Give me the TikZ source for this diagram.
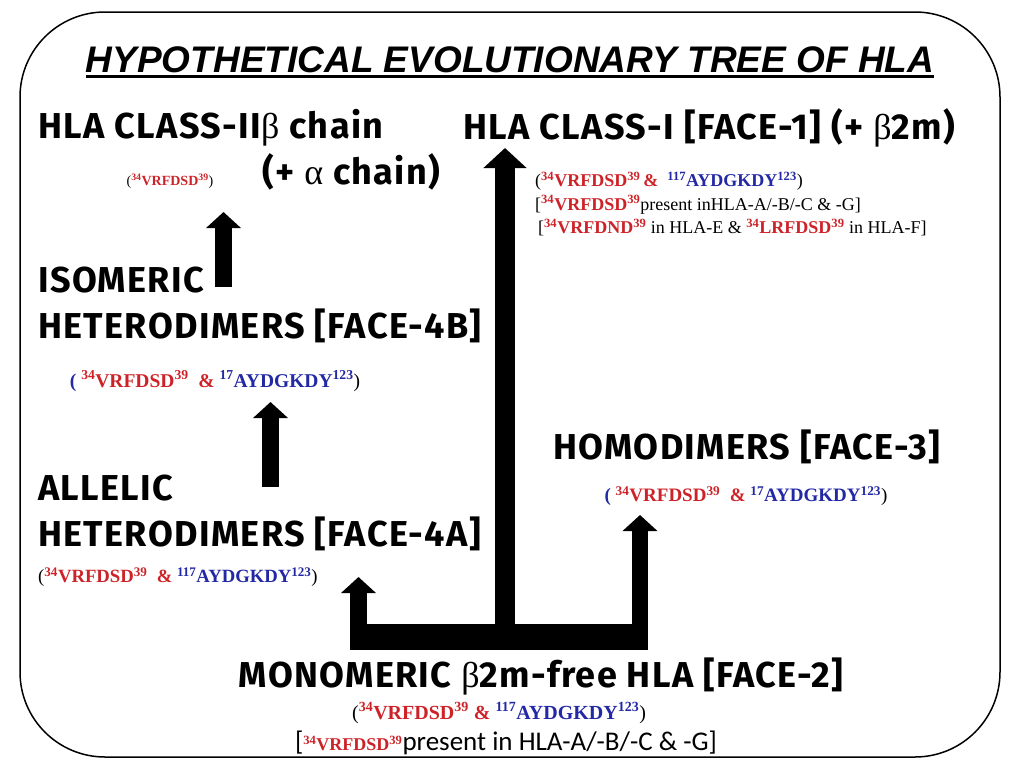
\documentclass[tikz,border=0pt]{standalone}
\usepackage{fontspec}
\setmainfont{Liberation Serif}
\newfontfamily\titlefont{Liberation Sans}
\newfontfamily\headfont{Fira Sans}[LetterSpace=3.8]
\newfontfamily\notefont{Carlito}
\usepackage{xcolor}
\usetikzlibrary{arrows.meta, positioning}
\definecolor{seqred}{RGB}{205,35,40}
\definecolor{seqblue}{RGB}{35,40,165}
\newcommand{\redseq}[3]{{\color{seqred}\textbf{\textsuperscript{#1}#2\textsuperscript{#3}}}}
\newcommand{\blueseq}[3]{{\color{seqblue}\textbf{\textsuperscript{#1}#2\textsuperscript{#3}}}}
\newcommand{\greek}[1]{{\rmfamily\mdseries #1}}
\tikzstyle{head} = [font=\headfont\bfseries\fontsize{36}{46}\selectfont, inner sep=0pt, anchor=west, align=left]
\tikzstyle{note} = [font=\fontsize{18}{23.5}\selectfont, inner sep=0pt, align=left]
\tikzstyle{blockarrow} = [line width=17pt, -{Triangle[length=16pt, width=34pt]}]

\begin{document}
\begin{tikzpicture}[x=1pt, y=-1pt]
  \useasboundingbox (0,0) rectangle (1010,761);
  \draw[line width=1.5pt, rounded corners=85pt] (20,12) rectangle (1000,757);

  % title
  \node[font=\titlefont\bfseries\itshape\fontsize{37}{40}\selectfont, inner sep=0pt] (title) at (510,60) {HYPOTHETICAL EVOLUTIONARY TREE OF HLA};
  \draw[line width=3pt] ([yshift=-3pt]title.south west) -- ([yshift=-3pt]title.south east);

  % class II
  \node[head] (classII) at (38,128) {HLA CLASS-II\greek{β} chain};
  \node[note, font=\fontsize{14}{18}\selectfont] (classIIseq) at (170,181) {(\redseq{34}{VRFDSD}{39})};
  \node[head] (alphachain) at (262,172) {(+ \greek{α} chain)};

  % class I
  \node[head] (classI) at (463,128) {HLA CLASS-I [FACE-1] (+ \greek{β}2m)};
  \node[note, anchor=west] (classInote) at (535,204) {(\redseq{34}{VRFDSD}{39}\,\textcolor{seqred}{\textbf{\&}} \ \blueseq{117}{AYDGKDY}{123})\\
    {[}\redseq{34}{VRFDSD}{39}present inHLA-A/-B/-C \& -G]\\
    \,[\redseq{34}{VRFDND}{39} in HLA-E \& \redseq{34}{LRFDSD}{39} in HLA-F]};

  % isomeric heterodimers
  \node[head] (isomeric) at (38,305) {ISOMERIC\\HETERODIMERS [FACE-4B]};
  \node[note, font=\fontsize{19.5}{22}\selectfont] (isomericseq) at (215,381) {\textcolor{seqblue}{\textbf{(}} \redseq{34}{VRFDSD}{39} \ \textcolor{seqred}{\textbf{\&}} \blueseq{17}{AYDGKDY}{123})};

  % allelic heterodimers
  \node[head] (allelic) at (38,513) {ALLELIC\\HETERODIMERS [FACE-4A]};
  \node[note, anchor=west, font=\fontsize{18.7}{22}\selectfont] (allelicseq) at (38,577) {(\redseq{34}{VRFDSD}{39} \ \textcolor{seqred}{\textbf{\&}} \blueseq{117}{AYDGKDY}{123})};

  % homodimers
  \node[head] (homo) at (553,447) {HOMODIMERS [FACE-3]};
  \node[note, font=\fontsize{19}{22}\selectfont] (homoseq) at (746,496) {\textcolor{seqblue}{\textbf{(}} \redseq{34}{VRFDSD}{39} \ \textcolor{seqred}{\textbf{\&}} \blueseq{17}{AYDGKDY}{123})};

  % monomeric
  \node[head, anchor=center] (mono) at (541,677) {MONOMERIC \greek{β}2m-free HLA [FACE-2]};
  \node[note, font=\fontsize{20}{24}\selectfont] (monoseq) at (499,713) {(\redseq{34}{VRFDSD}{39} \textcolor{seqred}{\textbf{\&}} \blueseq{117}{AYDGKDY}{123})};
  \node[note, font=\notefont\fontsize{27}{30}\selectfont] (monopresent) at (506,743) {[{\rmfamily\fontsize{18}{20}\selectfont\redseq{34}{VRFDSD}{39}}present in HLA-A/-B/-C \& -G]};

  % connectors
  \coordinate (hubL) at (358.5,637);
  \coordinate (hubC) at (505,637);
  \coordinate (hubR) at (640,637);
  \coordinate (allelicIn) at (358.5,577);
  \coordinate (classIIn) at (505,148);
  \coordinate (homoIn) at (640,515);
  \draw[line width=26pt] ([xshift=-8.5pt]hubL) -- ([xshift=8pt]hubR);
  \draw[blockarrow] ([yshift=13pt]hubL) -- (allelicIn);
  \draw[blockarrow, line width=20pt, -{Triangle[length=20pt, width=42pt]}] ([yshift=13pt]hubC) -- (classIIn);
  \draw[blockarrow, line width=16pt] ([yshift=13pt]hubR) -- (homoIn);

  \coordinate (allelicOut) at (270.5,487);
  \coordinate (isomericIn) at (270.5,402);
  \coordinate (isomericOut) at (223.5,287);
  \coordinate (classIIIn) at (223.5,212);
  \draw[blockarrow] (allelicOut) -- (isomericIn);
  \draw[blockarrow] (isomericOut) -- (classIIIn);
\end{tikzpicture}
\end{document}
